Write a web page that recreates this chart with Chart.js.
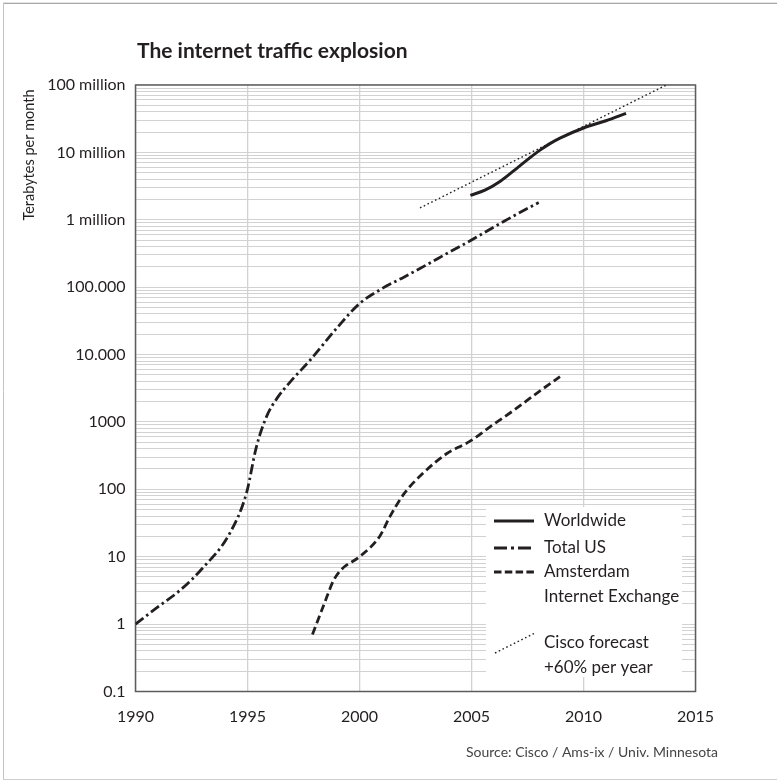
<!DOCTYPE html>
<html>
<head>
<meta charset="utf-8">
<title>The internet traffic explosion</title>
<script src="https://cdn.jsdelivr.net/npm/chart.js@4.4.1/dist/chart.umd.min.js"></script>
<style>
  html, body { margin: 0; padding: 0; background: #fff; }
  canvas { display: block; }
</style>
</head>
<body>
<canvas id="traffic" width="777" height="780"></canvas>
<script>
// Monthly traffic in terabytes, by year
const worldwideYears = [2004.95, 2005.6, 2006.27, 2007.1, 2007.6, 2008.06, 2008.5, 2008.95, 2010.0, 2011.0, 2011.9];
const worldwideTB    = [2.3e6, 2.75e6, 3.7e6, 6.1e6, 8.3e6, 10.8e6, 13.5e6, 16.3e6, 23e6, 29.5e6, 38e6];

const totalUsYears = [1990, 1991, 1992, 1993, 1994.2, 1994.95, 1995.4, 1995.85, 1996.3, 1996.9, 1997.8,
                      1999, 2000, 2001, 2002, 2003, 2004, 2005, 2006, 2007, 2008];
const totalUsTB    = [1, 1.8, 3.2, 6.8, 22, 87, 430, 1200, 2200, 3900, 8300,
                      25000, 57000, 95000, 142000, 215000, 330000, 500000, 780000, 1200000, 1800000];

const amsixYears = [1997.9, 1998.4, 1998.85, 1999.2, 2000.0, 2000.9, 2001.35, 2002.0, 2002.85, 2003.9,
                    2004.9, 2006.0, 2006.9, 2008.0, 2008.95];
const amsixTB    = [0.7, 1.9, 4.5, 6.5, 10, 20, 39, 87, 175, 340, 510, 930, 1500, 2800, 4700];

const ciscoYears = [2002.7, 2013.7];
const ciscoTB    = [1.5e6, 1e8];

// Axis ticks
const xTickValues = [1990, 1995, 2000, 2005, 2010, 2015];
const yTickValues = [0.1, 1, 10, 100, 1000, 1e4, 1e5, 1e6, 1e7, 1e8];
const yTickLabels = ['0.1', '1', '10', '100', '1000', '10.000', '100.000', '1 million', '10 million', '100 million'];
const minorSteps  = [1, 2, 3, 4, 5, 6, 7, 8, 9];

const INK = '#231f20';
const GRID = '#d2d2d2';
const FONT = 'Lato, "Open Sans", sans-serif';

// Every 1..9 step of each decade gets a grid line
const yGridValues = [];
yTickValues.slice(0, -1).forEach(d => minorSteps.forEach(m => yGridValues.push(d * m)));
yGridValues.push(yTickValues[yTickValues.length - 1]);

const toPoints = (xs, ys) => xs.map((x, i) => ({ x, y: ys[i] }));

const datasets = [
  { label: 'Worldwide', data: toPoints(worldwideYears, worldwideTB),
    borderColor: INK, borderWidth: 3, borderDash: [] },
  { label: 'Total US', data: toPoints(totalUsYears, totalUsTB),
    borderColor: INK, borderWidth: 2.8, borderDash: [10, 3.5, 2.5, 3.5] },
  { label: 'Amsterdam Internet Exchange', data: toPoints(amsixYears, amsixTB),
    borderColor: INK, borderWidth: 2.8, borderDash: [8, 4] },
  { label: 'Cisco forecast +60% per year', data: toPoints(ciscoYears, ciscoTB),
    borderColor: INK, borderWidth: 1.4, borderDash: [1.6, 2.6] }
].map(ds => Object.assign(ds, {
  pointRadius: 0, fill: false, cubicInterpolationMode: 'monotone', borderCapStyle: 'butt'
}));

// Legend entries: text lines, sample shape and the dash used in the short sample
const legendItems = [
  { lines: ['Worldwide'], y: 521, sample: 'flat', dash: [] },
  { lines: ['Total US'], y: 548, sample: 'flat', dash: [13, 4, 3, 4] },
  { lines: ['Amsterdam', 'Internet Exchange'], y: 572, sample: 'flat', dash: [7.5, 3.3] },
  { lines: ['Cisco forecast', '+60% per year'], y: 643, sample: 'slant', dash: [1.6, 2.6] }
];

const decor = {
  id: 'decor',
  beforeDraw(chart) {
    const c = chart.ctx;
    c.save();
    c.fillStyle = '#fff';
    c.fillRect(0, 0, chart.width, chart.height);
    // page frame
    c.lineWidth = 1;
    c.strokeStyle = '#e4e4e4';
    c.beginPath(); c.moveTo(3, 2.5); c.lineTo(chart.width, 2.5); c.stroke();
    c.strokeStyle = '#a8a8a8';
    c.beginPath(); c.moveTo(3, 3.5); c.lineTo(chart.width, 3.5); c.stroke();
    c.strokeStyle = '#c4c4c4';
    c.beginPath(); c.moveTo(3.5, 3); c.lineTo(3.5, chart.height); c.stroke();
    c.strokeStyle = '#cfcfcf';
    c.beginPath(); c.moveTo(3, 779.5); c.lineTo(chart.width, 779.5); c.stroke();
    c.restore();
  },
  beforeDatasetsDraw(chart) {
    const { left, top, right, bottom } = chart.chartArea;
    const c = chart.ctx;
    c.save();
    c.strokeStyle = '#5c5c5c';
    c.lineWidth = 1.5;
    c.strokeRect(left, top, right - left, bottom - top);
    c.restore();
  },
  afterDraw(chart) {
    const c = chart.ctx;
    c.save();

    // legend
    c.fillStyle = '#fff';
    c.fillRect(486, 507, 196, 170);
    c.font = '17px ' + FONT;
    c.textBaseline = 'middle';
    c.textAlign = 'left';
    legendItems.forEach((item, i) => {
      const ds = chart.data.datasets[i];
      c.save();
      c.strokeStyle = ds.borderColor;
      c.lineWidth = ds.borderWidth;
      c.setLineDash(item.dash);
      c.beginPath();
      if (item.sample === 'slant') {
        c.moveTo(495, item.y + 10);
        c.lineTo(535, item.y - 10);
      } else {
        c.moveTo(494, item.y);
        c.lineTo(534, item.y);
      }
      c.stroke();
      c.restore();
      c.fillStyle = INK;
      item.lines.forEach((t, k) => c.fillText(t, 544, item.y + k * 25));
    });

    // title
    c.fillStyle = INK;
    c.font = 'bold 21px ' + FONT;
    c.textBaseline = 'alphabetic';
    c.fillText('The internet traffic explosion', 137, 58);

    // y axis title
    c.save();
    c.translate(29, 155);
    c.rotate(-Math.PI / 2);
    c.font = '14.5px ' + FONT;
    c.textAlign = 'center';
    c.textBaseline = 'middle';
    c.fillText('Terabytes per month', 0, 0);
    c.restore();

    // source note
    c.fillStyle = '#444';
    c.font = '14px ' + FONT;
    c.textAlign = 'right';
    c.textBaseline = 'middle';
    c.fillText('Source: Cisco / Ams-ix / Univ. Minnesota', 718, 752);

    c.restore();
  }
};

new Chart(document.getElementById('traffic'), {
  type: 'line',
  data: { datasets },
  options: {
    responsive: false,
    animation: false,
    events: [],
    layout: { padding: { left: 0, top: 85, right: 81.5, bottom: 0 } },
    plugins: { legend: { display: false }, tooltip: { enabled: false }, title: { display: false } },
    scales: {
      x: {
        type: 'linear', min: 1990, max: 2015,
        afterBuildTicks: s => { s.ticks = xTickValues.map(v => ({ value: v })); },
        afterFit: s => { s.height = 88.5; },
        grid: { color: GRID, lineWidth: 1.3, drawTicks: false },
        border: { display: false },
        ticks: { padding: 16, color: INK, font: { family: FONT, size: 16 }, maxRotation: 0, autoSkip: false,
                 callback: v => String(v) }
      },
      y: {
        type: 'logarithmic', min: 0.1, max: 1e8,
        afterBuildTicks: s => { s.ticks = yGridValues.map(v => ({ value: v })); },
        afterFit: s => { s.width = 135.5; },
        grid: { color: GRID, lineWidth: 1.1, drawTicks: false },
        border: { display: false },
        ticks: { padding: 10, color: INK, font: { family: FONT, size: 16 }, autoSkip: false,
                 callback: v => { const i = yTickValues.indexOf(v); return i >= 0 ? yTickLabels[i] : ''; } }
      }
    }
  },
  plugins: [decor]
});
</script>
</body>
</html>
